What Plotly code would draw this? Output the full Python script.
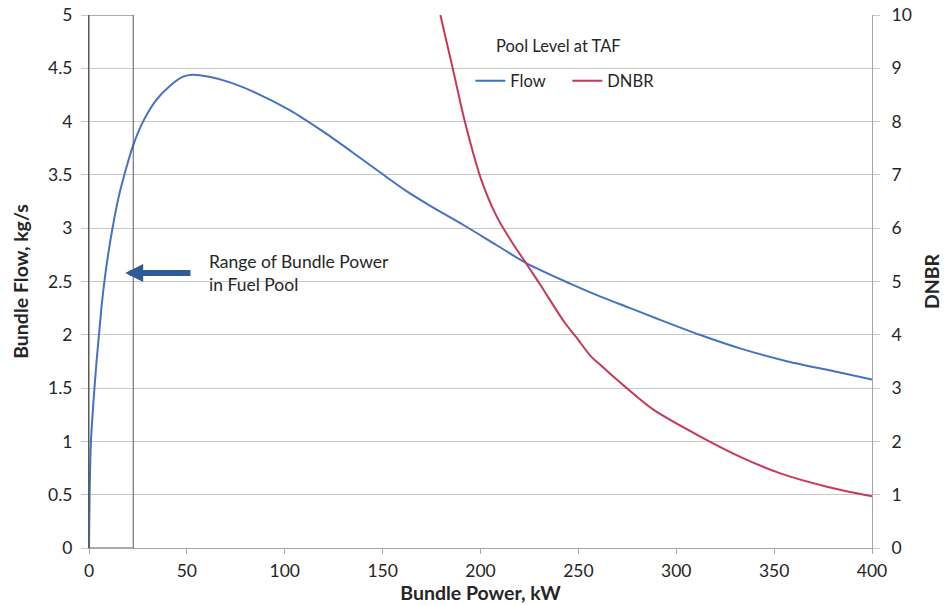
import plotly.graph_objects as go

# Bundle flow vs bundle power (left axis, kg/s)
flow_power_kw = [0, 0.3, 1, 2, 3, 4, 5, 6.5, 8, 10, 12, 15, 18.8, 22.6, 27.6,
                 34.2, 41, 47.8, 53, 61.4, 71.6, 85.2, 102.3, 119.3, 134, 149, 162,
                 174.3, 191.3, 208.3, 223.6, 245.8, 261, 276.5, 289, 312, 333, 357,
                 380, 400]
flow_kg_s = [0, 0.5, 1.0, 1.3, 1.55, 1.78, 1.98, 2.28, 2.52, 2.78, 3.0, 3.28, 3.55,
             3.78, 4.0, 4.20, 4.33, 4.42, 4.44, 4.42, 4.37, 4.27, 4.11, 3.91, 3.72,
             3.52, 3.35, 3.21, 3.03, 2.84, 2.67, 2.48, 2.36, 2.25, 2.16, 2.0, 1.87,
             1.75, 1.66, 1.58]

# DNBR vs bundle power (right axis)
dnbr_power_kw = [179.5, 186, 192, 200, 208, 216, 223.7, 230.7, 242.6, 249,
                 256.3, 262, 269.9, 275, 288.5, 312.3, 332.7, 353.2, 377, 400]
dnbr = [10, 8.97, 8.0, 6.95, 6.24, 5.74, 5.32, 4.93, 4.25, 3.95,
        3.6, 3.41, 3.15, 2.99, 2.59, 2.09, 1.71, 1.40, 1.15, 0.97]

# Range of bundle power in the fuel pool (kW)
pool_range_kw = [0, 22.6]
arrow_from_kw, arrow_to_kw, arrow_level = 52.6, 18.5, 2.58

flow_ticks = [0, 0.5, 1, 1.5, 2, 2.5, 3, 3.5, 4, 4.5, 5]
flow_tick_text = ["0", "0.5", "1", "1.5", "2", "2.5", "3", "3.5", "4", "4.5", "5"]
dnbr_ticks = list(range(0, 11))
power_ticks = [0, 50, 100, 150, 200, 250, 300, 350, 400]

FONT = "Lato, 'Open Sans', sans-serif"
TXT = "#262626"
GRID = "#c8c8c8"
TICK_SIZE = 17.5
TITLE_SIZE = 19.5

fig = go.Figure()
fig.add_trace(go.Scatter(
    x=flow_power_kw, y=flow_kg_s, name="Flow", mode="lines",
    line=dict(color="#4472C4", width=2, shape="spline", smoothing=0.8),
))
fig.add_trace(go.Scatter(
    x=dnbr_power_kw, y=dnbr, name="DNBR", mode="lines", yaxis="y2",
    line=dict(color="#C8385A", width=2, shape="spline", smoothing=0.8),
))

# Outline of the fuel-pool power range
fig.add_shape(type="rect", xref="x", yref="y",
              x0=pool_range_kw[0], x1=pool_range_kw[1], y0=0, y1=5,
              line=dict(color="#595959", width=1), layer="above")

# Arrow pointing at the range
fig.add_annotation(x=arrow_to_kw, y=arrow_level, ax=arrow_from_kw, ay=arrow_level,
                   xref="x", yref="y", axref="x", ayref="y", text="",
                   showarrow=True, arrowhead=2, arrowsize=0.6, arrowwidth=6,
                   arrowcolor="#2E5A96", standoff=0, startstandoff=0)
fig.add_annotation(x=60.4, y=arrow_level, xref="x", yref="y",
                   text="Range of Bundle Power<br>in Fuel Pool", showarrow=False,
                   xanchor="left", yanchor="middle", align="left",
                   font=dict(family=FONT, size=17.5, color=TXT))

# Legend heading
fig.add_annotation(x=0.60, y=0.942, xref="paper", yref="paper",
                   text="Pool Level at TAF", showarrow=False,
                   xanchor="center", yanchor="middle",
                   font=dict(family=FONT, size=16.5, color=TXT))

fig.update_layout(
    width=944, height=605,
    margin=dict(l=89, r=72, t=15, b=57, autoexpand=False),
    paper_bgcolor="white", plot_bgcolor="white",
    font=dict(family=FONT, size=16, color=TXT),
    showlegend=True,
    legend=dict(orientation="h", x=0.487, y=0.876, xanchor="left", yanchor="middle",
                bgcolor="rgba(0,0,0,0)", font=dict(family=FONT, size=16.5, color=TXT),
                itemwidth=30, entrywidth=52, entrywidthmode="pixels"),
    xaxis=dict(range=[0, 400], tickvals=power_ticks, showgrid=False, automargin=False,
               showline=True, linecolor="#a6a6a6", linewidth=1,
               ticks="outside", ticklen=5, tickcolor="#a6a6a6", ticklabelstandoff=2,
               tickfont=dict(family=FONT, size=TICK_SIZE, color=TXT),
               title=dict(text="<b>Bundle Power, kW</b>", standoff=2,
                          font=dict(family=FONT, size=TITLE_SIZE, color=TXT)),
               zeroline=False),
    yaxis=dict(range=[0, 5], tickvals=flow_ticks, ticktext=flow_tick_text,
               showgrid=True, gridcolor=GRID, gridwidth=1, automargin=False,
               showline=True, linecolor="#595959", linewidth=1,
               ticks="outside", ticklen=7, tickcolor=GRID, ticklabelstandoff=5,
               tickfont=dict(family=FONT, size=TICK_SIZE, color=TXT),
               title=dict(text="<b>Bundle Flow, kg/s</b>", standoff=14,
                          font=dict(family=FONT, size=TITLE_SIZE, color=TXT)),
               zeroline=False),
    yaxis2=dict(range=[0, 10], tickvals=dnbr_ticks, overlaying="y", side="right",
                showgrid=False, showline=True, linecolor="#a6a6a6", linewidth=1,
                automargin=False,
                ticks="outside", ticklen=7, tickcolor=GRID, ticklabelstandoff=8,
                tickfont=dict(family=FONT, size=TICK_SIZE, color=TXT),
                title=dict(text="<b>DNBR</b>", standoff=14,
                           font=dict(family=FONT, size=TITLE_SIZE, color=TXT)),
                zeroline=False),
)

fig.write_html("out.html")
